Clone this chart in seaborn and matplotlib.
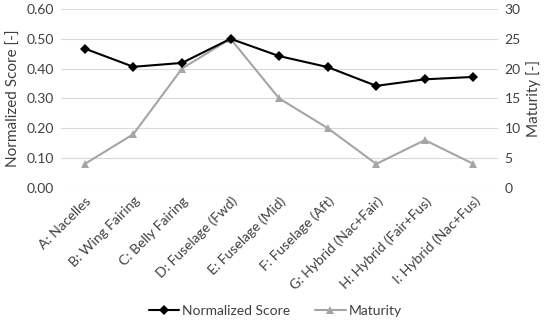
import matplotlib as mpl
mpl.use('Agg')
import numpy as np
import pandas as pd
import seaborn as sns
import matplotlib.pyplot as plt

categories = ['A: Nacelles', 'B: Wing Fairing', 'C: Belly Fairing', 'D: Fuselage (Fwd)',
              'E: Fuselage (Mid)', 'F: Fuselage (Aft)', 'G: Hybrid (Nac+Fair)',
              'H: Hybrid (Fair+Fus)', 'I: Hybrid (Nac+Fus)']
normalized_score = [0.467, 0.406, 0.419, 0.500, 0.442, 0.405, 0.342, 0.364, 0.372]
maturity = [4, 9, 20, 25, 15, 10, 4, 8, 4]

sns.set_style('white')
plt.rcParams['font.family'] = ['Lato', 'DejaVu Sans']

df = pd.DataFrame({'cat': categories, 'score': normalized_score, 'maturity': maturity})
x = np.arange(len(categories))

fig, ax = plt.subplots(figsize=(5.5, 3.21), dpi=100)
ax2 = ax.twinx()

sns.lineplot(x=x, y=df['maturity'], ax=ax2, color='#a5a5a5', marker='^', markersize=6,
             markeredgewidth=0, linewidth=1.5, label='Maturity', legend=False)
sns.lineplot(x=x, y=df['score'], ax=ax, color='black', marker='D', markersize=5,
             markeredgewidth=0, linewidth=1.5, label='Normalized Score', legend=False)
ax.set_zorder(ax2.get_zorder() + 1)
ax.patch.set_visible(False)

ax.set_ylim(0, 0.6)
ax.set_yticks(np.arange(0, 0.61, 0.1))
ax.set_yticklabels(['{:.2f}'.format(v) for v in np.arange(0, 0.61, 0.1)])
ax2.set_ylim(0, 30)
ax2.set_yticks(range(0, 31, 5))
ax.set_xlim(-0.5, len(categories) - 0.5)
ax.set_xticks(x)
ax.set_xticklabels(categories, rotation=45, ha='right', rotation_mode='anchor')

for v in np.arange(0, 0.61, 0.1):
    ax2.axhline(v * 50, color='#d9d9d9', linewidth=0.8, zorder=0)

for a in (ax, ax2):
    for s in a.spines.values():
        s.set_visible(False)
    a.tick_params(length=0, labelsize=10, colors='#404040', pad=5)

ax.set_ylabel('Normalized Score [-]', fontsize=11, color='#404040')
ax2.set_ylabel('Maturity [-]', fontsize=11, color='#404040')

h1, l1 = ax.get_legend_handles_labels()
h2, l2 = ax2.get_legend_handles_labels()
fig.legend(h1 + h2, l1 + l2, loc='lower center', ncol=2, frameon=False, fontsize=10,
           bbox_to_anchor=(0.5, -0.025), handlelength=2.2, handletextpad=0.2,
           columnspacing=1.8, labelcolor='#404040')

fig.subplots_adjust(left=0.11, right=0.905, top=0.972, bottom=0.415)
fig.savefig('out.png', dpi=100)
